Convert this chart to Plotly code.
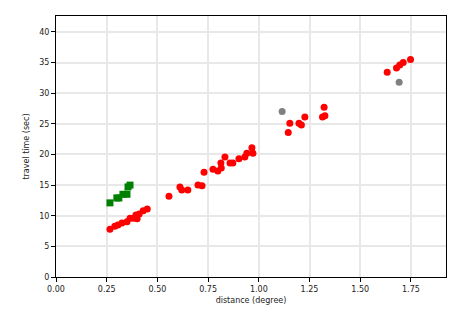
import plotly.graph_objects as go

# green squares
green_x = [0.266, 0.30, 0.31, 0.33, 0.35, 0.355, 0.365]
green_y = [12.1, 12.9, 12.9, 13.5, 13.5, 14.7, 15.0]

# red circles
red_x = [0.266, 0.29, 0.305, 0.325, 0.35, 0.365, 0.38, 0.394, 0.41, 0.40, 0.43, 0.45,
         0.557, 0.611, 0.62, 0.65, 0.70, 0.72, 0.73,
         0.774, 0.798, 0.813, 0.833, 0.858, 0.872, 0.902, 0.931, 0.941, 0.966, 0.971, 0.815,
         1.145, 1.153, 1.198, 1.21, 1.227, 1.314, 1.326, 1.322,
         1.633, 1.679, 1.695, 1.712, 1.748]
red_y = [7.8, 8.3, 8.5, 8.8, 9.0, 9.6, 9.6, 10.1, 10.3, 9.5, 10.8, 11.1,
         13.2, 14.7, 14.2, 14.2, 15.0, 14.9, 17.1,
         17.6, 17.3, 18.6, 19.6, 18.6, 18.6, 19.3, 19.6, 20.2, 21.1, 20.2, 17.8,
         23.6, 25.1, 25.1, 24.8, 26.1, 26.1, 26.3, 27.7,
         33.4, 34.1, 34.6, 35.0, 35.5]

# gray circles
gray_x = [1.115, 1.692]
gray_y = [27.0, 31.8]

x_ticks = [0, 0.25, 0.5, 0.75, 1.0, 1.25, 1.5, 1.75]
x_labels = ["0.00", "0.25", "0.50", "0.75", "1.00", "1.25", "1.50", "1.75"]
y_ticks = [0, 5, 10, 15, 20, 25, 30, 35, 40]

fig = go.Figure()
fig.add_trace(go.Scatter(x=gray_x, y=gray_y, mode="markers",
                         marker=dict(color="gray", size=7, symbol="circle")))
fig.add_trace(go.Scatter(x=red_x, y=red_y, mode="markers",
                         marker=dict(color="red", size=7, symbol="circle")))
fig.add_trace(go.Scatter(x=green_x, y=green_y, mode="markers",
                         marker=dict(color="green", size=7, symbol="square")))

axis_common = dict(showline=True, linecolor="black", linewidth=1, mirror=True,
                   ticks="outside", ticklen=4, tickcolor="black",
                   showgrid=True, gridcolor="#e8e8e8", gridwidth=1.5,
                   zeroline=False, tickfont=dict(size=8, color="#222"))

fig.update_layout(
    width=465, height=315,
    margin=dict(l=56, r=19, t=16, b=38),
    paper_bgcolor="white", plot_bgcolor="white",
    showlegend=False,
    font=dict(family="DejaVu Sans", size=8, color="#222"),
    xaxis=dict(range=[0, 1.923], tickvals=x_ticks, ticktext=x_labels,
               title=dict(text="distance (degree)", font=dict(size=8), standoff=4), **axis_common),
    yaxis=dict(range=[0, 42.6], tickvals=y_ticks,
               title=dict(text="travel time (sec)", font=dict(size=8), standoff=8), **axis_common),
)

fig.write_html("out.html")
